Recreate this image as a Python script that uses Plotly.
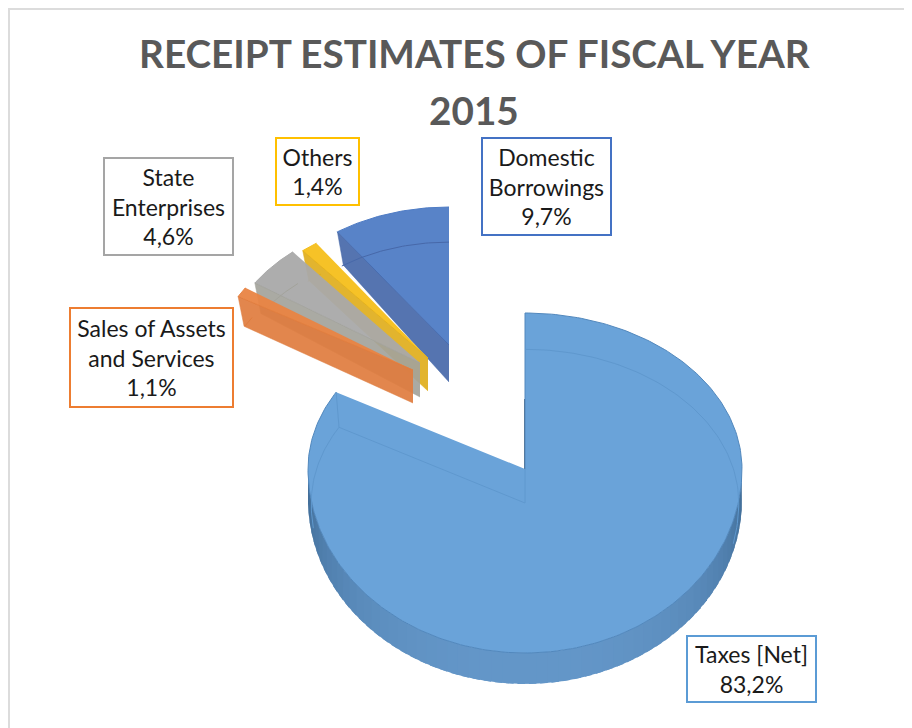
import numpy as np
import plotly.graph_objects as go

categories = ["Taxes [Net]", "Sales of Assets and Services", "State Enterprises", "Others", "Domestic Borrowings"]
values = [83.2, 1.1, 4.6, 1.4, 9.7]
percent_labels = ["83,2%", "1,1%", "4,6%", "1,4%", "9,7%"]
title_lines = ["RECEIPT ESTIMATES OF FISCAL YEAR", "2015"]
title_y = [53, 110]

top_colors = ["#6aa3d9", "#e98443", "#a9a9a9", "#f5bf1b", "#4f7cc5"]
wall_colors = ["#3f6b95", "#df7c3e", "#a3a39b", "#e0ae1c", "#4768a9"]
border_colors = ["#5b9bd5", "#ed7d31", "#a5a5a5", "#ffc000", "#4472c4"]

# 3-D projection of the pie: centre, radii (rear / front) and extrusion of each slice
apex_x = [525, 413, 420, 428, 449]
apex_y = [469, 370, 363, 358, 345]
radius_x = [217, 201, 198, 195, 195]
radius_rear = [156, 149, 145, 140, 138]
radius_front = [184, 149, 145, 140, 138]
depth = [31, 33, 34, 33, 37]

# label boxes: left, right, top, bottom
box_lines = [["Taxes [Net]"], ["Sales of Assets", "and Services"], ["State", "Enterprises"], ["Others"], ["Domestic", "Borrowings"]]
box_l = [686, 69, 103, 275, 481]
box_r = [817, 234, 234, 360, 612]
box_t = [635, 307, 157, 137, 137]
box_b = [703, 408, 256, 206, 236]

total = sum(values)
ends = np.cumsum(values) / total * 360
starts = np.concatenate([[0], ends[:-1]])


def outline(i, a, b, n=120, shift=0.0, scale=1.0):
    th = np.radians(np.linspace(a, b, n))
    ry = np.where(np.cos(th) > 0, radius_rear[i], radius_front[i])
    return apex_x[i] + scale * radius_x[i] * np.sin(th), apex_y[i] + shift - scale * ry * np.cos(th)


def mix(c1, c2, t):
    a = [int(c1[k:k + 2], 16) for k in (1, 3, 5)]
    b = [int(c2[k:k + 2], 16) for k in (1, 3, 5)]
    return "rgb(%d,%d,%d)" % tuple(a[k] + (b[k] - a[k]) * t for k in range(3))


def rgba(c, alpha):
    return "rgba(%d,%d,%d,%.2f)" % (int(c[1:3], 16), int(c[3:5], 16), int(c[5:7], 16), alpha)


fig = go.Figure()


def poly(x, y, fill, line, i, width=1):
    fig.add_trace(go.Scatter(x=list(x), y=list(y), mode="lines", fill="toself", fillcolor=fill,
                             line=dict(color=line, width=width), name=categories[i],
                             text="%s %s" % (categories[i], percent_labels[i]), hoverinfo="text", showlegend=False))


def stroke(x, y, color, width=1):
    fig.add_trace(go.Scatter(x=list(x), y=list(y), mode="lines", line=dict(color=color, width=width),
                             hoverinfo="skip", showlegend=False))


# Taxes: front rim with a shaded gradient (overlapping bands so no seams show)
steps = np.linspace(90, 270, 61)
for a, b in zip(steps[:-1], steps[1:]):
    b2 = min(b + 2.0, 270)
    x1, y1 = outline(0, a, b2, 8)
    x2, y2 = outline(0, b2, a, 8, shift=depth[0])
    t = abs((a + b) / 2 - 180) / 90
    c = mix("#6497c9", wall_colors[0], t ** 2.2)
    poly(np.r_[x1, x2], np.r_[y1, y2], c, "rgba(0,0,0,0)", 0, 0)

# Taxes: thin dark notch wall, then the top face
stroke([apex_x[0], apex_x[0]], [apex_y[0] - 70, apex_y[0] + depth[0] + 3], "#1f3c58", 1.5)
x, y = outline(0, starts[0], ends[0], 300)
poly(np.r_[apex_x[0], x], np.r_[apex_y[0], y], top_colors[0], "#5288bd", 0)

# Taxes: faint back-face outline seen through the translucent top
sh = depth[0] + 3
xb, yb = outline(0, 0, 103, 80, shift=sh, scale=0.985)
stroke(xb, yb, "#5f98ce")
xc, yc = outline(0, ends[0], ends[0], 2)
xd, yd = outline(0, 262, ends[0], 40, shift=sh, scale=0.985)
stroke(xd, yd, "#5f98ce")
stroke([xc[0], xd[-1], apex_x[0], apex_x[0]], [yc[0], yd[-1], apex_y[0] + sh, apex_y[0]], "#5f98ce")

# Exploded slices, from the back to the front
for i in [4, 3, 2, 1]:
    d = depth[i]
    x, y = outline(i, starts[i], ends[i], 40)
    poly(np.r_[apex_x[i], x], np.r_[apex_y[i], y], rgba(top_colors[i], 0.95), top_colors[i], i)
    # side wall that faces the viewer, slightly see-through
    xs, ys = outline(i, starts[i], starts[i], 2)
    poly([apex_x[i], xs[0], xs[0] + 6, apex_x[i]],
         [apex_y[i], ys[0], ys[0] + d * 0.9, apex_y[i] + d],
         rgba(wall_colors[i], 0.92), wall_colors[i], i, 0.5)
    # back-face outline seen through the top
    xi, yi = outline(i, starts[i], ends[i], 40, shift=d * 0.8, scale=0.96)
    stroke(xi, yi, wall_colors[i])

# Label boxes
for i in range(len(categories)):
    text = "<br>".join(box_lines[i] + [percent_labels[i]])
    fig.add_annotation(x=(box_l[i] + box_r[i]) / 2, y=(box_t[i] + box_b[i]) / 2, xref="x", yref="y",
                       xanchor="center", yanchor="middle", text=text, showarrow=False,
                       width=box_r[i] - box_l[i] - 6, height=box_b[i] - box_t[i] - 6, borderpad=1,
                       font=dict(family="Lato", size=23, color="#1a1a1a"), align="center", valign="middle",
                       bgcolor="white", bordercolor=border_colors[i], borderwidth=2)

for line, y in zip(title_lines, title_y):
    fig.add_annotation(x=474, y=y, xref="x", yref="y", xanchor="center", yanchor="middle", text=line, showarrow=False,
                       font=dict(family="Lato", size=38.7, color="#595959", weight="bold"), align="center")

fig.update_layout(width=904, height=720, margin=dict(l=0, r=0, t=0, b=0), paper_bgcolor="white", plot_bgcolor="white",
                  showlegend=False,
                  xaxis=dict(range=[8, 912], visible=False, fixedrange=True),
                  yaxis=dict(range=[728, 8], visible=False, fixedrange=True),
                  shapes=[dict(type="line", xref="x", yref="y", x0=8, x1=912, y0=9, y1=9, line=dict(color="#dcdcdc", width=2)),
                          dict(type="line", xref="x", yref="y", x0=9, x1=9, y0=8, y1=728, line=dict(color="#dcdcdc", width=2))])
fig.write_html("out.html")
